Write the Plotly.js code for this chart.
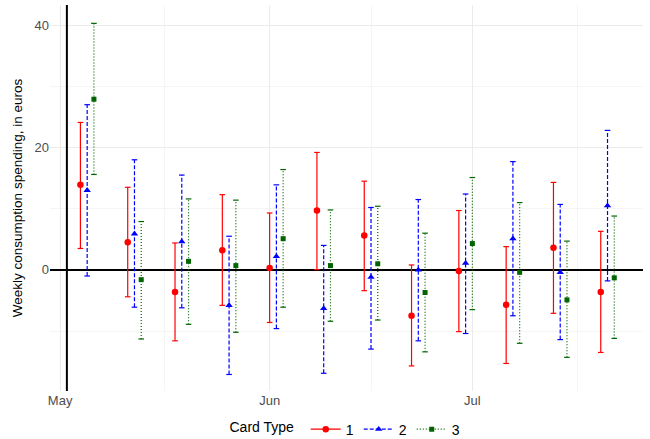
<!DOCTYPE html>
<html><head><meta charset="utf-8">
<script src="https://cdn.plot.ly/plotly-3.0.1.min.js"></script>
<style>html,body{margin:0;padding:0;background:#fff}#chart{width:650px;height:439px}</style>
</head><body><div id="chart"></div>
<script>
const weeks = ['2014-05-05','2014-05-12','2014-05-19','2014-05-26','2014-06-02','2014-06-09','2014-06-16','2014-06-23','2014-06-30','2014-07-07','2014-07-14','2014-07-21'];
const cardTypes = ['1','2','3'];
const est1 = [13.9, 4.5, -3.6, 3.2, 0.3, 9.7, 5.6, -7.5, -0.2, -5.7, 3.6, -3.6];
const hi1  = [24.1, 13.5, 4.4, 12.3, 9.3, 19.2, 14.5, 0.8, 9.7, 3.8, 14.3, 6.3];
const lo1  = [3.5, -4.4, -11.6, -5.8, -8.6, 0.05, -3.4, -15.7, -10.1, -15.3, -7.1, -13.5];
const est2 = [13.0, 5.9, 4.6, -5.8, 2.2, -6.3, -1.2, 0.0, 1.1, 5.1, -0.4, 10.5];
const hi2  = [27.0, 18.0, 15.5, 5.5, 13.9, 4.0, 10.2, 11.5, 12.4, 17.7, 10.7, 22.8];
const lo2  = [-1.0, -6.1, -6.2, -17.1, -9.6, -16.9, -12.95, -11.6, -10.4, -7.5, -11.4, -1.8];
const est3 = [27.9, -1.6, 1.4, 0.7, 5.1, 0.7, 1.0, -3.7, 4.3, -0.4, -4.9, -1.3];
const hi3  = [40.3, 7.9, 11.6, 11.4, 16.4, 9.8, 10.4, 6.0, 15.1, 11.0, 4.7, 8.8];
const lo3  = [15.6, -11.3, -8.9, -10.2, -6.1, -8.4, -8.2, -13.4, -6.5, -12.0, -14.3, -11.2];

const DAY = 86400000;
function shift(d, k){ return new Date(Date.parse(d + 'T00:00:00Z') + k*DAY).toISOString().slice(0,19).replace('T',' '); }
const series = [
  {name: cardTypes[0], est: est1, hi: hi1, lo: lo1, off: -1, color: '#FF0000', dash: 'solid', symbol: 'circle', size: 6.5, mcolor: '#FF0000'},
  {name: cardTypes[1], est: est2, hi: hi2, lo: lo2, off: 0, color: '#0000FF', dash: '4px,2px', symbol: 'triangle-up', size: 6.5, mcolor: '#0000FF'},
  {name: cardTypes[2], est: est3, hi: hi3, lo: lo3, off: 1, color: '#006400', dash: '1px,2px', symbol: 'square', size: 5, mcolor: '#006400'}
];
const traces = [];
series.forEach(s => {
  const xs = weeks.map(w => shift(w, s.off));
  const lx = [], ly = [], cx = [], cy = [], px = [], py = [];
  xs.forEach((x, i) => {
    lx.push(x, x, null); ly.push(s.lo[i], s.hi[i], null);
    cx.push(x, x); cy.push(s.lo[i], s.hi[i]);
    px.push(x, null); py.push(s.est[i], null);
  });
  traces.push({type:'scatter', mode:'lines', x: lx, y: ly, showlegend:false, hoverinfo:'skip',
    line:{color:s.color, width:1.2, dash:s.dash}, connectgaps:false});
  traces.push({type:'scatter', mode:'markers', x: cx, y: cy, showlegend:false, hoverinfo:'skip',
    marker:{symbol:'line-ew', size:4, line:{color:s.color, width:1.2}}});
  traces.push({type:'scatter', mode:'lines+markers', x: px, y: py, name: s.name, connectgaps:false,
    line:{color:s.color, width:1.2, dash:s.dash},
    marker:{symbol:s.symbol, size:s.size, color:s.mcolor}});
});

const layout = {
  width: 650, height: 439,
  margin: {l: 50, r: 7, t: 5, b: 48, autoexpand: false},
  paper_bgcolor: '#fff', plot_bgcolor: '#fff',
  font: {family: 'Liberation Sans, Arial, sans-serif', size: 13, color: '#000'},
  xaxis: {
    type: 'date', range: ['2014-04-29 12:00', '2014-07-26 06:00'],
    tickmode: 'array', tickvals: ['2014-05-01','2014-06-01','2014-07-01'], ticktext: ['May','Jun','Jul'],
    showgrid: true, gridcolor: '#EBEBEB', gridwidth: 1.1,
    minor: {tickmode: 'array', tickvals: ['2014-05-16 12:00','2014-06-16','2014-07-16 12:00'], showgrid: true, gridcolor: '#EFEFEF', gridwidth: 0.6},
    zeroline: false, showline: false, ticks: '',
    tickfont: {size: 13, color: '#4D4D4D'}
  },
  yaxis: {
    range: [-19.8, 43.3],
    tickmode: 'array', tickvals: [0, 20, 40],
    showgrid: true, gridcolor: '#EBEBEB', gridwidth: 1.1,
    minor: {tickmode: 'array', tickvals: [-10, 10, 30], showgrid: true, gridcolor: '#EFEFEF', gridwidth: 0.6},
    zeroline: true, zerolinecolor: '#000', zerolinewidth: 1.5,
    showline: false, ticks: '',
    tickfont: {size: 13, color: '#4D4D4D'},
    title: {text: 'Weekly consumption spending, in euros', font: {size: 13.5, color: '#000'}, standoff: 8}
  },
  shapes: [{type: 'line', xref: 'x', yref: 'paper', x0: '2014-05-02', x1: '2014-05-02', y0: 0, y1: 1,
    line: {color: '#000', width: 2}, layer: 'above'}],
  legend: {orientation: 'h', x: 0.5, xanchor: 'center', y: -0.1, yanchor: 'middle',
    title: {text: 'Card Type ', side: 'left', font: {size: 14}}, font: {size: 14},
    tracegroupgap: 0, itemwidth: 30},
  showlegend: true
};
Plotly.newPlot('chart', traces, layout, {displayModeBar: false, staticPlot: true});
</script></body></html>
